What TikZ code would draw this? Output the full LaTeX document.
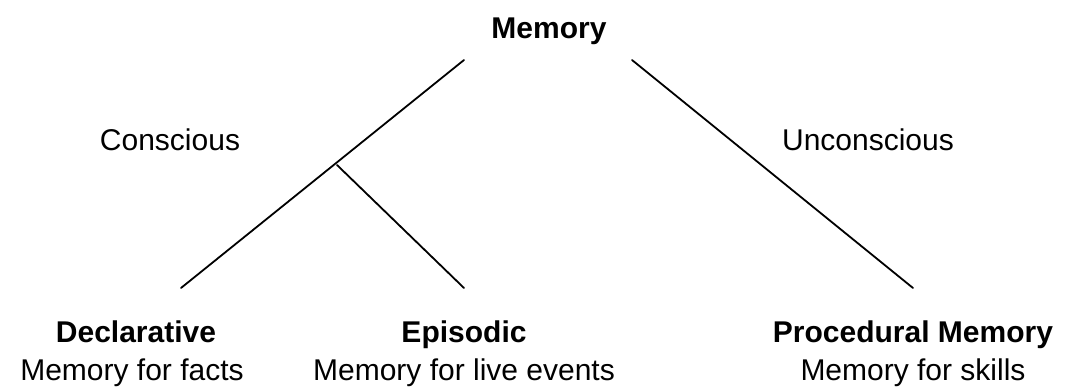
\documentclass[tikz,border=0pt]{standalone}
\usepackage{fontspec}
\setmainfont{Liberation Sans}
\begin{document}
\begin{tikzpicture}[x=1pt,y=-1pt,
  lbl/.style={font=\fontsize{30}{34}\selectfont, inner sep=0pt, anchor=base},
  head/.style={font=\fontsize{30}{34}\selectfont\bfseries, inner sep=0pt, anchor=base},
  branch/.style={line width=1.8pt, line cap=round}]
\useasboundingbox (0,0) rectangle (1070,388);
\node[head] (mem) at (549,38) {Memory};
\coordinate (mL) at (464,60);
\coordinate (mR) at (632,60);
\coordinate (fork) at (337,165);
\coordinate (dEnd) at (181,288);
\coordinate (eEnd) at (464,288);
\coordinate (pEnd) at (913,288);
\draw[branch] (mL) -- (dEnd);
\draw[branch] (fork) -- (eEnd);
\draw[branch] (mR) -- (pEnd);
\node[lbl] (cons) at (170,150) {Conscious};
\node[lbl] (uncons) at (868,150) {Unconscious};
\node[head] (decl) at (136,342) {Declarative};
\node[lbl] (declsub) at (132,380) {Memory for facts};
\node[head] (epi) at (464,342) {Episodic};
\node[lbl] (episub) at (464,380) {Memory for live events};
\node[head] (proc) at (913,342) {Procedural Memory};
\node[lbl] (procsub) at (913,380) {Memory for skills};
\end{tikzpicture}
\end{document}
